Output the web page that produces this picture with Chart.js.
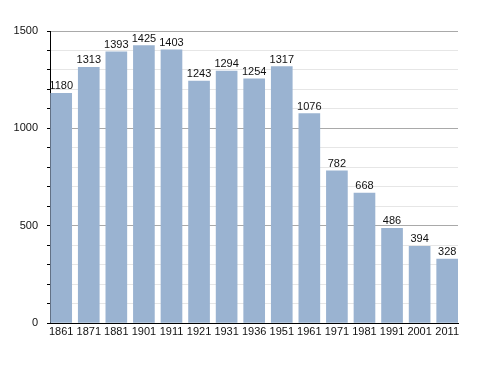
<!DOCTYPE html>
<html>
<head>
<meta charset="utf-8">
<script src="https://cdn.jsdelivr.net/npm/chart.js@4/dist/chart.umd.min.js"></script>
<style>
  body { margin: 0; background: #fff; }
  canvas { display: block; }
</style>
</head>
<body>
<canvas id="chart" width="488" height="373"></canvas>
<script>
// census years and population
const years = ["1861", "1871", "1881", "1901", "1911", "1921", "1931", "1936",
  "1951", "1961", "1971", "1981", "1991", "2001", "2011"];
const population = [1180, 1313, 1393, 1425, 1403, 1243, 1294, 1254,
  1317, 1076, 782, 668, 486, 394, 328];
const yTickLabels = [0, 500, 1000, 1500];

const FONT = "'Liberation Sans', Arial, sans-serif";

// writes the value above each bar
const valueLabels = {
  id: "valueLabels",
  afterDatasetsDraw(chart) {
    const ctx = chart.ctx;
    const meta = chart.getDatasetMeta(0);
    ctx.save();
    ctx.font = "11px " + FONT;
    ctx.fillStyle = "#111";
    ctx.textAlign = "center";
    ctx.textBaseline = "alphabetic";
    meta.data.forEach((bar, i) => {
      ctx.fillText(String(population[i]), bar.x, bar.y - 4);
    });
    ctx.restore();
  },
};

new Chart(document.getElementById("chart"), {
  type: "bar",
  data: {
    datasets: [{
      data: population.map((v, i) => ({ x: i, y: v })),
      backgroundColor: "#9ab3d1",
      barThickness: 21,
    }],
  },
  plugins: [valueLabels],
  options: {
    responsive: false,
    animation: false,
    layout: { padding: { top: 31, right: 30, left: 0, bottom: 0 } },
    plugins: { legend: { display: false }, tooltip: { enabled: false } },
    scales: {
      x: {
        type: "linear",
        offset: false,
        min: -0.406,
        max: 14.392,
        afterBuildTicks: (s) => { s.ticks = years.map((_, i) => ({ value: i })); },
        afterFit: (s) => {
          s.height = 50;
          s.paddingLeft = 0;
          s.paddingRight = 0;
        },
        grid: { display: false, drawTicks: false },
        border: { display: true, color: "#000", width: 1 },
        ticks: {
          autoSkip: false,
          maxRotation: 0,
          padding: 2,
          color: "#111",
          font: { family: FONT, size: 11 },
          callback: (v) => years[v] ?? "",
        },
      },
      y: {
        min: 0,
        max: 1500,
        afterFit: (s) => {
          s.width = 50;
          s.paddingTop = 0;
          s.paddingBottom = 0;
        },
        grid: {
          color: (c) => (c.tick && c.tick.value % 500 === 0 ? "#a9a9a9" : "#e6e6e6"),
          tickColor: "#000",
          tickLength: 3,
        },
        border: { display: true, color: "#000", width: 1 },
        ticks: {
          stepSize: 100,
          autoSkip: false,
          padding: 9,
          color: "#111",
          font: { family: FONT, size: 11 },
          callback: (v) => (yTickLabels.includes(v) ? String(v) : ""),
        },
      },
    },
  },
});
</script>
</body>
</html>
